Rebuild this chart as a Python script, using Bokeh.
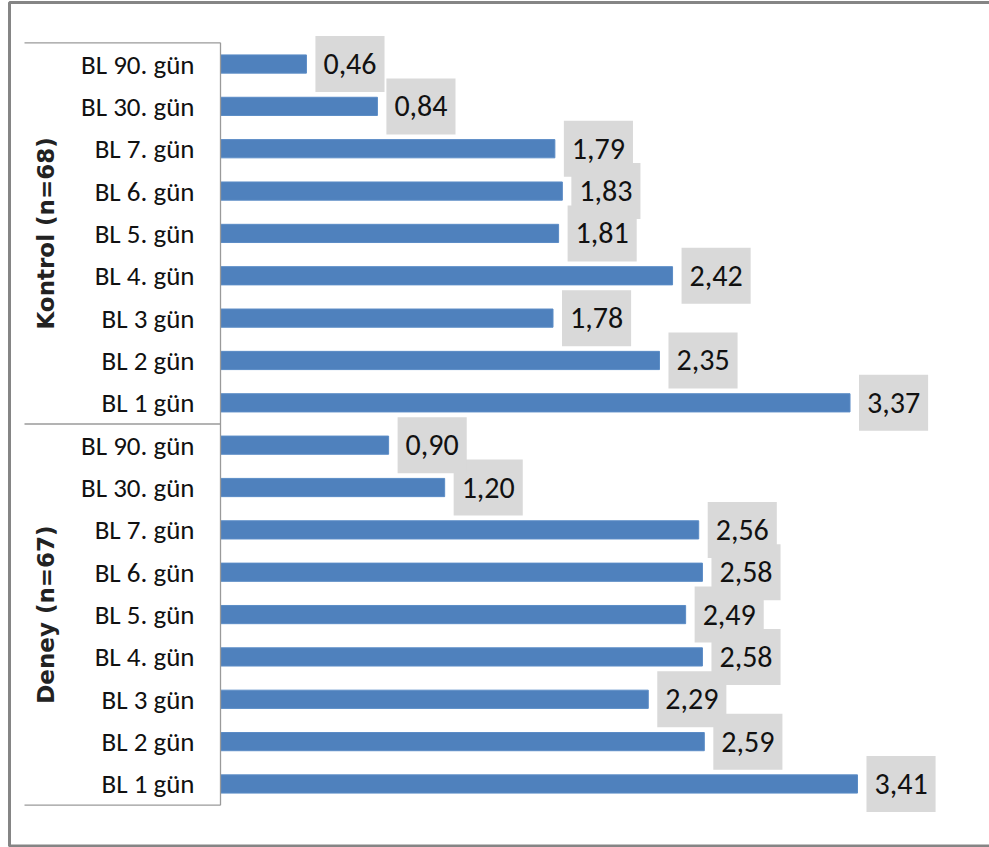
from math import pi

from bokeh.core.properties import value
from bokeh.embed import file_html
from bokeh.models import BoxAnnotation, ColumnDataSource, FactorRange
from bokeh.plotting import figure
from bokeh.resources import INLINE

# --- data (top to bottom within each group) ---
groups = ["Kontrol (n=68)", "Deney (n=67)"]
day_labels = ["BL 90. gün", "BL 30. gün", "BL 7. gün", "BL 6. gün", "BL 5. gün",
              "BL 4. gün", "BL 3 gün", "BL 2 gün", "BL 1 gün"]
kontrol_values = [0.46, 0.84, 1.79, 1.83, 1.81, 2.42, 1.78, 2.35, 3.37]
deney_values = [0.90, 1.20, 2.56, 2.58, 2.49, 2.58, 2.29, 2.59, 3.41]

# --- layout constants ---
W, H = 989, 847
ZERO_PX = 220          # pixel column where the value axis starts
PX_PER_UNIT = 186.8    # horizontal scale
X_START = -ZERO_PX / PX_PER_UNIT
X_END = (W - ZERO_PX) / PX_PER_UNIT
SEP_LEFT = (24 - ZERO_PX) / PX_PER_UNIT

BAR_COLOR = "#4f81bd"
LINE_GREY = "#9a9a9a"
LABEL_FONT = "Carlito, Calibri, Roboto Condensed, sans-serif"

# Bokeh puts the first factor at the bottom, so build bottom-up
factors, vals = [], []
for g, v in zip(reversed(groups), [deney_values, kontrol_values]):
    for lab, x in zip(reversed(day_labels), reversed(v)):
        factors.append((g, lab))
        vals.append(x)

src = ColumnDataSource(dict(
    y=factors,
    val=vals,
    zero=[0.0] * len(vals),
    txt=[f"{x:.2f}".replace(".", ",") for x in vals],
    day=[f[1] for f in factors],
))

y_range = FactorRange(*factors, group_padding=0, factor_padding=0,
                      range_padding=1, range_padding_units="absolute")

p = figure(width=W, height=H, x_range=(X_START, X_END), y_range=y_range,
           output_backend="svg", toolbar_location=None,
           x_axis_location=None, y_axis_location=None,
           min_border=0, min_border_left=0, min_border_right=0,
           min_border_top=0, min_border_bottom=0)
p.grid.visible = False
p.outline_line_color = None
p.background_fill_color = "white"
p.border_fill_color = "white"

# bars
p.hbar(y="y", left="zero", right="val", height=0.43, source=src,
       fill_color=BAR_COLOR, line_color="#5b8cc6", line_width=1)

# value labels in grey boxes (padding is horizontal, vertical)
p.text(x="val", y="y", text="txt", source=src,
       x_offset=9, text_align="left", text_baseline="middle",
       text_font=value(LABEL_FONT), text_font_size="30px", text_color="#111111",
       background_fill_color="#d9d9d9", padding=(8, 18))

# category labels
p.text(x="zero", y="y", text="day", source=src, x_offset=-26,
       text_align="right", text_baseline="middle",
       text_font=value(LABEL_FONT), text_font_size="27px", text_color="#111111")

# group labels, rotated
grp_src = ColumnDataSource(dict(
    x=[0.0, 0.0],
    y=[(g, "BL 5. gün") for g in groups],
    t=groups,
))
p.text(x="x", y="y", text="t", source=grp_src, x_offset=-175, angle=pi / 2,
       text_align="center", text_baseline="middle",
       text_font=value("DejaVu Sans"), text_font_style="bold",
       text_font_size="23px", text_color="#222222")

# group frame lines: top, between groups, bottom, and the category axis line
top_edge = (groups[0], day_labels[0], 0.5)
mid_edge = (groups[1], day_labels[0], 0.5)
bottom_edge = (groups[1], day_labels[-1], -0.5)
seg_src = ColumnDataSource(dict(
    x0=[SEP_LEFT, SEP_LEFT, SEP_LEFT, 0.0],
    x1=[0.0, 0.0, 0.0, 0.0],
    y0=[top_edge, mid_edge, bottom_edge, bottom_edge],
    y1=[top_edge, mid_edge, bottom_edge, top_edge],
))
p.segment(x0="x0", y0="y0", x1="x1", y1="y1", source=seg_src,
          line_color=LINE_GREY, line_width=1.3)

# outer chart border
p.add_layout(BoxAnnotation(left=9, right=W + 20, top=1.5, bottom=845,
                           left_units="screen", right_units="screen",
                           top_units="screen", bottom_units="screen",
                           fill_color=None, line_color="#858585",
                           line_alpha=1.0, line_width=3))

open("out.html", "w").write(file_html(p, INLINE))
